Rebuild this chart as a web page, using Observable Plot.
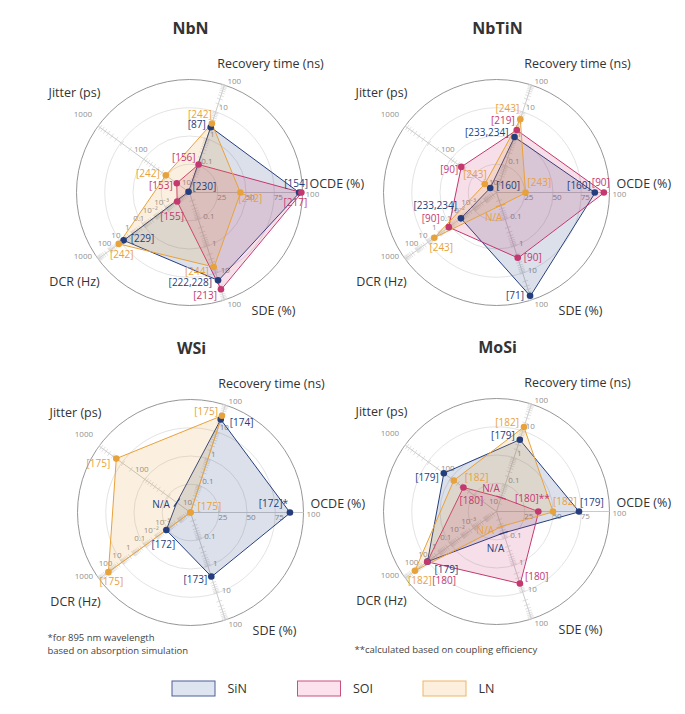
<!DOCTYPE html>
<html><head><meta charset="utf-8">
<script src="https://cdn.jsdelivr.net/npm/d3@7"></script>
<script src="https://cdn.jsdelivr.net/npm/@observablehq/plot@0.6"></script>
<style>body{margin:0;background:#fff;font-family:"Open Sans",sans-serif}</style>
</head><body><div id="chart"></div>
<script>
// ---------- data ----------
const materials = ["NbN", "NbTiN", "WSi", "MoSi"];
const metrics = ["OCDE (%)", "Recovery time (ns)", "Jitter (ps)", "DCR (Hz)", "SDE (%)"];
const platforms = ["SiN", "SOI", "LN"];
// values ordered as metrics: [OCDE, Recovery, Jitter, DCR, SDE]; null = N/A
const nbnSiN   = [97, 2.7, 10.5, 5.8, 18.6];
const nbnSOI   = [99, 0.11, 19, 1.2e-4, 40];
const nbnLN    = [45, 3.7, 33, 15.6, 5.9];
const nbtinSiN = [87, 1.16, 13.7, 0.013, 70];
const nbtinSOI = [95, 2.1, 59, 0.15, 2.7];
const nbtinLN  = [25.7, 5.3, 18, 2.8, null];
const wsiSiN   = [88, 29, null, 1.3e-3, 2.4];
const wsiLN    = [0, 40, 420, 152, 0.01];
const mosiSiN  = [73, 4.7, 142, 11, null];
const mosiSOI  = [37, null, 53, 11.5, 4.8];
const mosiLN   = [50, 14, 86, 137, null];
// reference labels
const nbnSiNRef   = ["[154]", "[87]", "[230]", "[229]", "[222,228]"];
const nbnSOIRef   = ["[217]", "[156]", "[153]", "[155]", "[213]"];
const nbnLNRef    = ["[242]", "[242]", "[242]", "[242]", "[244]"];
const nbtinSiNRef = ["[160]", "[233,234]", "[160]", "[233,234]", "[71]"];
const nbtinSOIRef = ["[90]", "[219]", "[90]", "[90]", "[90]"];
const nbtinLNRef  = ["[243]", "[243]", "[243]", "[243]", "N/A"];
const wsiSiNRef   = ["[172]*", "[174]", "N/A", "[172]", "[173]"];
const wsiLNRef    = ["[175]", "[175]", "[175]", "[175]", ""];
const mosiSiNRef  = ["[179]", "[179]", "[179]", "[179]", "N/A"];
const mosiSOIRef  = ["[180]**", "N/A", "[180]", "[180]", "[180]"];
const mosiLNRef   = ["[182]", "[182]", "[182]", "[182]", "N/A"];
// axis tick labels
const ocdeTicks = [25, 50, 75, 100];
const recTicks = [0.1, 1, 10, 100];
const jitTicks = [10, 100, 1000];
const dcrTicks = [1e-3, 1e-2, 0.1, 1, 10, 100, 1000];
const sdeTicks = [0.1, 1, 10, 100];
const footnoteWSi = ["*for 895 nm wavelength", "based on absorption simulation"];
const footnoteMoSi = "**calculated based on coupling efficiency";

// ---------- layout / style ----------
const W = 685, H = 714, R = 113;
const centers = {NbN: [189, 192], NbTiN: [496, 192], WSi: [190, 512], MoSi: [496, 511]};
const angles = [0, 72, 144, 216, 288].map(d => d * Math.PI / 180);
const colors = {SiN: "#243d7c", SOI: "#c4386f", LN: "#e8a23b"};
const legendFill = {SiN: "#dfe5f0", SOI: "#fbe2ed", LN: "#fdefdd"};
const legendStroke = {SiN: "#4d5f95", SOI: "#c9517f", LN: "#ecb567"};
const domains = [[0, 100], [0.01, 100], [10, 1000], [1e-5, 1000], [0.01, 100]];
const scales = domains.map((d, i) => Plot.scale({x: {type: i === 0 ? "linear" : "log", domain: d, range: [0, 1], clamp: true}}));
const naRadius = {"NbTiN|LN|4": 0.12, "WSi|SiN|2": 0.15, "MoSi|SOI|1": 0.13, "MoSi|SiN|4": 0.2, "MoSi|LN|4": 0.14};
// label placement: [anchor, dx, dy] per metric
const labelPos = {
  "NbN|SiN": [["middle", -3, -9], ["end", -5, -2], ["start", 4, -5], ["start", 7, -2], ["end", -6, 2]],
  "NbN|SOI": [["middle", -6, 10], ["end", -3, -7], ["end", -4, 3], ["middle", -5, 15], ["end", -4, 7]],
  "NbN|LN":  [["middle", 10, 6], ["middle", -12, -9], ["end", -6, -1], ["middle", 3, 11], ["end", -5, 5]],
  "NbTiN|SiN": [["end", -4, -7], ["end", -6, -4], ["start", 6, -2], ["end", -4, -13], ["end", -6, 0]],
  "NbTiN|SOI": [["middle", -3, -10], ["end", -2, -9], ["end", -3, 3], ["end", -9, -8], ["start", 6, 0]],
  "NbTiN|LN":  [["start", 2, -10], ["end", -1, -11], ["end", 2, -9], ["middle", 7, 10], ["middle", -7, 12]],
  "WSi|SiN": [["end", -2, -9], ["start", 9, 3], ["end", -7, 2], ["middle", -3, 15], ["end", -4, 3]],
  "WSi|LN":  [["start", 7, -6], ["end", -4, -4], ["end", -6, 5], ["middle", 3, 10], ["start", 0, 0]],
  "MoSi|SiN": [["start", 1, -9], ["end", -5, -4], ["end", -5, 5], ["start", 7, 8], ["middle", -8, 16]],
  "MoSi|SOI": [["middle", -6, -13], ["middle", -10, -9], ["middle", 8, 13], ["start", 5, 19], ["start", 5, -7]],
  "MoSi|LN":  [["start", 0, -10], ["end", -5, -4], ["start", 11, -3], ["middle", 5, 10], ["middle", -16, 4]]
};

const series = [
  {panel: "NbN", platform: "SiN", values: nbnSiN, refs: nbnSiNRef},
  {panel: "NbN", platform: "SOI", values: nbnSOI, refs: nbnSOIRef},
  {panel: "NbN", platform: "LN", values: nbnLN, refs: nbnLNRef},
  {panel: "NbTiN", platform: "SiN", values: nbtinSiN, refs: nbtinSiNRef},
  {panel: "NbTiN", platform: "SOI", values: nbtinSOI, refs: nbtinSOIRef},
  {panel: "NbTiN", platform: "LN", values: nbtinLN, refs: nbtinLNRef},
  {panel: "WSi", platform: "SiN", values: wsiSiN, refs: wsiSiNRef},
  {panel: "WSi", platform: "LN", values: wsiLN, refs: wsiLNRef},
  {panel: "MoSi", platform: "SiN", values: mosiSiN, refs: mosiSiNRef},
  {panel: "MoSi", platform: "SOI", values: mosiSOI, refs: mosiSOIRef},
  {panel: "MoSi", platform: "LN", values: mosiLN, refs: mosiLNRef}
];

function pos(panel, i, r) {
  const [cx, cy] = centers[panel];
  return [cx + R * r * Math.cos(angles[i]), cy - R * r * Math.sin(angles[i])];
}
const perp = i => [Math.sin(angles[i]), Math.cos(angles[i])];

// ---------- derived rows ----------
const polyRows = [], dotRows = [], labelRows = [], naMarks = [];
for (const s of series) {
  const key = s.panel + "|" + s.platform;
  s.values.forEach((v, i) => {
    const na = v == null;
    const r = na ? naRadius[key + "|" + i] : scales[i].apply(v);
    const [x, y] = pos(s.panel, i, r);
    polyRows.push({key, x, y, color: colors[s.platform]});
    if (!na) dotRows.push({x, y, color: colors[s.platform]});
    else {
      const [px, py] = perp(i);
      naMarks.push({x1: x - 5 * px, y1: y - 5 * py, x2: x + 5 * px, y2: y + 5 * py, color: colors[s.platform]});
    }
    const [anchor, dx, dy] = labelPos[key][i];
    if (s.refs[i]) labelRows.push({x: x + dx, y: y + dy, text: s.refs[i], anchor, color: colors[s.platform]});
  });
}

const axisLines = [], minorTicks = [], tickLabels = [], axisTitles = [], titles = [];
const tickSets = [ocdeTicks, recTicks, jitTicks, dcrTicks, sdeTicks];
const fmt = v => v === 1e-3 ? "10⁻³" : v === 1e-2 ? "10⁻²" : String(v);
for (const m of materials) {
  const [cx, cy] = centers[m];
  titles.push({x: cx + 1, y: cy - 164, text: m});
  metrics.forEach((name, i) => {
    const [x2, y2] = pos(m, i, 1);
    axisLines.push({x1: cx, y1: cy, x2, y2});
    if (i > 0) {
      const [lo, hi] = domains[i];
      for (let e = Math.round(Math.log10(lo)); e < Math.round(Math.log10(hi)); e++) {
        for (let k = 1; k <= 9; k++) {
          const v = k * Math.pow(10, e);
          const r = scales[i].apply(v);
          if (r <= 0.001) continue;
          const [x, y] = pos(m, i, r);
          const [px, py] = perp(i);
          minorTicks.push({x1: x - 3 * px, y1: y - 3 * py, x2: x + 3 * px, y2: y + 3 * py});
        }
      }
      const [x, y] = pos(m, i, 1);
      const [px, py] = perp(i);
      minorTicks.push({x1: x - 3 * px, y1: y - 3 * py, x2: x + 3 * px, y2: y + 3 * py});
    }
    tickSets[i].forEach(v => {
      const r = scales[i].apply(v);
      const [x, y] = pos(m, i, r);
      let t;
      if (i === 0) t = v < 100 ? {x: x + 4, y: y + 5, anchor: "middle"} : {x: x + 3, y: y + 2, anchor: "start"};
      else if (i === 1) t = {x: x + 3, y: y - 4, anchor: "start"};
      else if (i === 4) t = v < 100 ? {x: x + 5, y: y - 2.5, anchor: "start"} : {x: x + 3, y: y + 4, anchor: "start"};
      else if (i === 3) t = v < 1000 ? {x: x - 5, y: y - 7, anchor: "middle"} : {x: x - 6, y: y - 2, anchor: "end"};
      else t = v < 1000 ? {x: x - 3, y: y - 10, anchor: "middle"} : {x: x - 6, y: y - 12, anchor: "end"};
      tickLabels.push({...t, text: fmt(v)});
    });
  });
  axisTitles.push({x: cx + 81, y: cy - 129, text: metrics[1], anchor: "middle"});
  axisTitles.push({x: cx - 115, y: cy - 100, text: metrics[2], anchor: "middle"});
  axisTitles.push({x: cx + 120, y: cy - 9, text: metrics[0], anchor: "start"});
  axisTitles.push({x: cx - 115, y: cy + 89, text: metrics[3], anchor: "middle"});
  axisTitles.push({x: cx + 84, y: cy + 118, text: metrics[4], anchor: "middle"});
}

const legendRows = platforms.map((p, j) => ({platform: p, x1: 172 + j * 125.5, x2: 215 + j * 125.5, y1: 681, y2: 696}));
const footRows = [
  {x: 47, y: 637, text: footnoteWSi[0]},
  {x: 47, y: 650, text: footnoteWSi[1]},
  {x: 354, y: 649, text: footnoteMoSi}
];

const textByAnchor = (rows, opts) => ["start", "middle", "end"].map(a =>
  Plot.text(rows.filter(d => d.anchor === a), {x: "x", y: "y", text: "text", textAnchor: a, ...opts}));

const marks = [];
for (const m of materials) {
  const [cx, cy] = centers[m];
  [0.25, 0.5, 0.75].forEach(k => marks.push(Plot.dot([{x: cx, y: cy}], {x: "x", y: "y", r: R * k, stroke: "#dcdcdc", strokeWidth: 0.8, fill: "none"})));
  marks.push(Plot.dot([{x: cx, y: cy}], {x: "x", y: "y", r: R, stroke: "#8a8a8a", strokeWidth: 0.9, fill: "none"}));
}
marks.push(
  Plot.link(axisLines, {x1: "x1", y1: "y1", x2: "x2", y2: "y2", stroke: "#c4c4c4", strokeWidth: 0.9}),
  Plot.link(minorTicks, {x1: "x1", y1: "y1", x2: "x2", y2: "y2", stroke: "#d2d2d2", strokeWidth: 0.7}),
  ...textByAnchor(tickLabels, {fill: "#909090", fontSize: 8}),
  Plot.line(polyRows, {x: "x", y: "y", z: "key", stroke: "color", fill: "color", fillOpacity: 0.16, strokeWidth: 1, curve: "linear-closed"}),
  Plot.link(naMarks, {x1: "x1", y1: "y1", x2: "x2", y2: "y2", stroke: "color", strokeWidth: 1.2}),
  Plot.dot(dotRows, {x: "x", y: "y", r: 3.3, fill: "color"}),
  ...textByAnchor(labelRows, {fill: "color", fontSize: 10}),
  ...textByAnchor(axisTitles, {fill: "#333", fontSize: 12.5}),
  Plot.text(titles, {x: "x", y: "y", text: "text", fill: "#333", fontSize: 16, fontWeight: "bold"}),
  Plot.text(footRows, {x: "x", y: "y", text: "text", textAnchor: "start", fill: "#444", fontSize: 9.5}),
  Plot.rect(legendRows, {x1: "x1", x2: "x2", y1: "y1", y2: "y2", fill: d => legendFill[d.platform], stroke: d => legendStroke[d.platform], strokeWidth: 1}),
  Plot.text(legendRows, {x: d => d.x2 + 12, y: d => (d.y1 + d.y2) / 2, text: "platform", textAnchor: "start", fill: "#333", fontSize: 12.5})
);

const chart = Plot.plot({
  width: W, height: H,
  margin: 0,
  x: {type: "identity", axis: null}, y: {type: "identity", axis: null},
  color: {type: "identity"},
  style: {fontFamily: "'Open Sans', sans-serif", background: "#fff"},
  marks
});
document.getElementById("chart").appendChild(chart);
</script></body></html>
